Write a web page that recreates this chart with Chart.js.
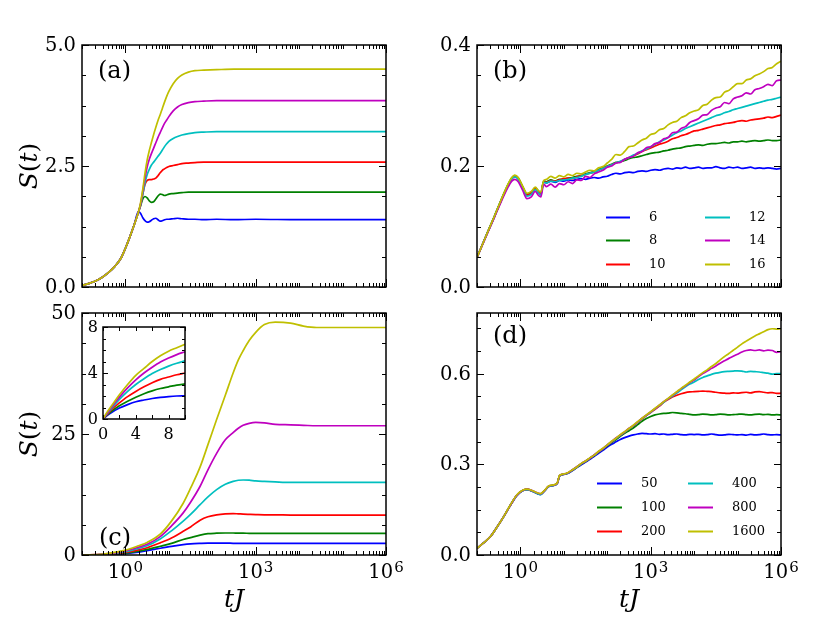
<!DOCTYPE html>
<html>
<head>
<meta charset="utf-8">
<title>S(t) vs tJ</title>
<script src="https://cdn.jsdelivr.net/npm/chart.js@4.4.1/dist/chart.umd.min.js"></script>
<style>
  html, body { margin:0; padding:0; background:#ffffff; }
  #fig { position:relative; width:822px; height:617px; overflow:hidden; background:#ffffff; }
  #fig canvas { position:absolute; left:0; top:0; }
</style>
</head>
<body>
<div id="fig">
  <canvas id="cA" width="822" height="617"></canvas>
  <canvas id="cB" width="822" height="617"></canvas>
  <canvas id="cC" width="822" height="617"></canvas>
  <canvas id="cD" width="822" height="617"></canvas>
  <canvas id="cI" width="822" height="617"></canvas>
</div>
<script>
// ---------------- DATA ----------------
const COLORS = ['#0000ff', '#008000', '#ff0000', '#00bfbf', '#bf00bf', '#bfbf00'];
const legendB = ['6', '8', '10', '12', '14', '16'];
const legendD = ['50', '100', '200', '400', '800', '1600'];

// panel (a): log10(tJ) and S(t)
const logT_A = [-1,-0.85,-0.7,-0.55,-0.4,-0.25,-0.1,0,0.1,0.2,0.3,0.35,0.4,0.45,0.5,0.55,0.6,0.65,0.7,0.75,0.8,0.85,0.9,0.95,1.0,1.1,1.2,1.3,1.45,1.6,1.8,2.1,2.5,3,4,5,6];
const aBlue  = [0.03,0.07,0.12,0.19,0.29,0.42,0.60,0.80,1.03,1.28,1.56,1.52,1.43,1.37,1.34,1.35,1.38,1.41,1.42,1.39,1.36,1.37,1.39,1.40,1.40,1.41,1.42,1.41,1.40,1.40,1.39,1.40,1.39,1.40,1.39,1.39,1.39];
const aGreen = [0.03,0.07,0.12,0.19,0.29,0.42,0.60,0.80,1.03,1.28,1.55,1.68,1.82,1.87,1.84,1.78,1.75,1.76,1.82,1.88,1.92,1.91,1.89,1.90,1.92,1.93,1.94,1.95,1.96,1.96,1.96,1.96,1.96,1.96,1.96,1.96,1.96];
const aRed   = [0.03,0.07,0.12,0.19,0.29,0.42,0.60,0.80,1.03,1.28,1.55,1.70,1.92,2.12,2.20,2.22,2.22,2.23,2.25,2.30,2.36,2.41,2.44,2.47,2.49,2.51,2.53,2.55,2.56,2.57,2.58,2.58,2.58,2.58,2.58,2.58,2.58];
const aCyan  = [0.03,0.07,0.12,0.19,0.29,0.42,0.60,0.80,1.03,1.28,1.55,1.70,1.92,2.15,2.32,2.43,2.52,2.58,2.64,2.70,2.76,2.83,2.90,2.96,3.01,3.07,3.11,3.14,3.17,3.19,3.20,3.21,3.21,3.21,3.21,3.21,3.21];
const aMag   = [0.03,0.07,0.12,0.19,0.29,0.42,0.60,0.80,1.03,1.28,1.55,1.72,1.98,2.25,2.48,2.64,2.76,2.87,2.98,3.09,3.19,3.29,3.38,3.45,3.52,3.64,3.72,3.77,3.81,3.83,3.84,3.85,3.85,3.85,3.85,3.85,3.85];
const aYel   = [0.03,0.07,0.12,0.19,0.29,0.42,0.60,0.80,1.03,1.28,1.55,1.75,2.02,2.35,2.62,2.82,2.99,3.15,3.30,3.44,3.56,3.69,3.82,3.94,4.04,4.20,4.31,4.38,4.44,4.47,4.48,4.49,4.50,4.50,4.50,4.50,4.50];

// panel (b)
const logT_B = [-1,-0.8,-0.6,-0.45,-0.3,-0.2,-0.13,-0.05,0.05,0.15,0.25,0.34,0.42,0.47,0.535,
  0.6,0.7,0.8,0.9,1.0,1.1,1.2,1.3,1.4,1.5,1.6,1.7,1.8,1.9,2.0,2.1,2.2,2.3,2.4,2.5,2.6,2.7,2.8,2.9,3.0,
  3.1,3.2,3.3,3.4,3.5,3.6,3.7,3.8,3.9,4.0,4.1,4.2,4.3,4.4,4.5,4.6,4.7,4.8,4.9,5.0,5.1,5.2,5.3,5.4,5.5,5.6,5.7,5.8,5.9,6.0];
const bBlue  = [0.049,0.083,0.116,0.142,0.166,0.179,0.183,0.179,0.165,0.152,0.155,0.163,0.157,0.154,0.174,
  0.172,0.175,0.173,0.176,0.175,0.177,0.176,0.178,0.179,0.178,0.180,0.181,0.180,0.182,0.183,
  0.186,0.188,0.187,0.189,0.190,0.189,0.191,0.192,0.191,0.193,0.194,0.193,0.195,0.196,0.195,0.197,0.196,0.198,0.196,0.197,
  0.198,0.196,0.197,0.197,0.199,0.197,0.196,0.198,0.197,0.198,0.196,0.197,0.198,0.196,0.197,0.196,0.197,0.196,0.195,0.196];
const bGreen = [0.049,0.083,0.117,0.143,0.167,0.180,0.184,0.180,0.166,0.153,0.156,0.164,0.158,0.155,0.175,
  0.174,0.177,0.175,0.178,0.178,0.180,0.181,0.183,0.184,0.187,0.189,0.191,0.194,0.197,0.200,
  0.203,0.206,0.207,0.209,0.212,0.214,0.215,0.217,0.219,0.221,0.222,0.223,0.225,0.226,0.228,0.229,0.230,0.232,0.233,0.234,
  0.235,0.234,0.236,0.237,0.237,0.238,0.239,0.238,0.240,0.240,0.241,0.240,0.241,0.242,0.241,0.242,0.243,0.242,0.242,0.243];
const bRed   = [0.049,0.083,0.116,0.142,0.166,0.179,0.183,0.179,0.165,0.152,0.155,0.163,0.157,0.154,0.174,
  0.173,0.176,0.175,0.177,0.179,0.180,0.179,0.182,0.184,0.186,0.188,0.190,0.193,0.196,0.199,
  0.202,0.205,0.207,0.211,0.214,0.217,0.220,0.224,0.227,0.230,0.233,0.236,0.238,0.241,0.245,0.247,0.250,0.252,0.255,0.258,
  0.259,0.261,0.263,0.265,0.267,0.268,0.270,0.271,0.272,0.274,0.275,0.274,0.276,0.277,0.278,0.279,0.281,0.280,0.282,0.284];
const bCyan  = [0.049,0.083,0.116,0.142,0.166,0.179,0.182,0.178,0.163,0.150,0.153,0.161,0.155,0.152,0.173,
  0.172,0.175,0.174,0.176,0.177,0.178,0.180,0.181,0.183,0.186,0.188,0.190,0.193,0.196,0.199,
  0.202,0.205,0.208,0.211,0.214,0.218,0.221,0.225,0.228,0.232,0.236,0.240,0.243,0.247,0.251,0.255,0.258,0.262,0.265,0.268,
  0.271,0.274,0.277,0.280,0.283,0.285,0.288,0.290,0.293,0.295,0.297,0.299,0.301,0.303,0.305,0.307,0.309,0.310,0.312,0.314];
const bMag   = [0.049,0.082,0.115,0.140,0.163,0.175,0.178,0.174,0.160,0.146,0.149,0.158,0.151,0.149,0.170,
  0.166,0.170,0.165,0.171,0.169,0.174,0.171,0.177,0.176,0.183,0.181,0.187,0.190,0.193,0.198,
  0.200,0.205,0.206,0.211,0.214,0.216,0.222,0.224,0.230,0.232,0.237,0.239,0.245,0.247,0.255,0.256,0.262,0.265,0.272,0.275,
  0.278,0.284,0.285,0.292,0.296,0.298,0.305,0.303,0.311,0.314,0.316,0.321,0.319,0.326,0.328,0.331,0.335,0.333,0.341,0.342];
const bYel   = [0.049,0.083,0.117,0.143,0.168,0.181,0.185,0.181,0.167,0.155,0.158,0.165,0.159,0.157,0.176,
  0.178,0.183,0.180,0.184,0.182,0.186,0.184,0.188,0.187,0.190,0.193,0.192,0.197,0.199,0.205,
  0.211,0.219,0.218,0.224,0.232,0.233,0.238,0.243,0.246,0.252,0.254,0.260,0.262,0.268,0.272,0.274,0.280,0.283,0.288,0.291,
  0.293,0.300,0.302,0.309,0.313,0.314,0.322,0.325,0.331,0.336,0.336,0.342,0.344,0.349,0.352,0.356,0.361,0.363,0.369,0.373];

// panel (c)
const logT_C = [-1,-0.5,0,0.3,0.5,0.8,1.06,1.33,1.5,1.72,1.9,2.1,2.3,2.48,2.6,2.71,2.85,3.0,3.2,3.45,3.8,4.1,4.4,5,6];
const cBlue  = [0,0.06,0.3,0.6,0.9,1.4,1.8,2.15,2.3,2.4,2.45,2.45,2.45,2.42,2.41,2.4,2.4,2.4,2.4,2.4,2.4,2.4,2.4,2.4,2.4];
const cGreen = [0,0.08,0.4,0.8,1.15,1.8,2.4,3.2,3.6,4.1,4.4,4.5,4.55,4.55,4.5,4.5,4.48,4.47,4.46,4.45,4.45,4.45,4.45,4.45,4.45];
const cRed   = [0,0.11,0.55,1.05,1.5,2.5,3.5,4.9,5.8,7.2,7.9,8.3,8.5,8.55,8.5,8.45,8.4,8.35,8.3,8.3,8.25,8.25,8.25,8.25,8.25];
const cCyan  = [0,0.14,0.7,1.35,1.9,3.3,5.0,7.0,8.4,10.4,12.0,13.5,14.6,15.2,15.45,15.5,15.45,15.3,15.2,15.1,15.0,15.0,15.0,15.0,15.0];
const cMag   = [0,0.17,0.85,1.6,2.2,3.8,6.0,8.7,10.9,14.2,17.6,21.0,23.8,25.3,26.2,26.8,27.2,27.4,27.3,27.0,26.9,26.8,26.7,26.7,26.7];
const cYel   = [0,0.2,1.0,1.9,2.6,4.3,7.0,10.7,13.8,18.2,22.8,28.0,33.0,37.6,40.3,42.2,44.3,46.0,47.6,48.1,47.9,47.3,47.0,47.0,47.0];

// inset of (c): linear tJ
const tInset = [0,0.5,1,2,3,4,5,6,7,8,9,10];
const iBlue  = [0,0.3,0.55,0.95,1.25,1.5,1.65,1.78,1.88,1.95,2.0,2.02];
const iGreen = [0,0.35,0.65,1.15,1.55,1.9,2.2,2.45,2.65,2.8,2.95,3.05];
const iRed   = [0,0.4,0.8,1.4,1.95,2.4,2.8,3.15,3.45,3.65,3.85,4.0];
const iCyan  = [0,0.45,0.9,1.7,2.4,3.0,3.5,3.95,4.3,4.6,4.85,5.05];
const iMag   = [0,0.5,1.0,1.9,2.7,3.4,4.0,4.5,4.95,5.3,5.6,5.85];
const iYel   = [0,0.6,1.1,2.1,3.0,3.8,4.4,5.0,5.5,5.9,6.2,6.5];

// panel (d)
const logT_D = [-1,-0.85,-0.69,-0.55,-0.385,-0.25,-0.08,0.05,0.15,0.3,0.46,0.55,0.65,0.766,0.85,0.9,1.0,
  1.1,1.2,1.3,1.4,1.5,1.6,1.7,1.8,1.9,2.0,2.1,2.2,2.3,2.4,2.5,2.6,2.7,2.8,2.9,3.0,
  3.1,3.2,3.3,3.4,3.5,3.6,3.7,3.8,3.9,4.0,4.1,4.2,4.3,4.4,4.5,4.6,4.7,4.8,4.9,5.0,5.1,5.2,5.3,5.4,5.5,5.6,5.7,5.8,5.9,6.0];
const dBlue  = [0.022,0.040,0.061,0.090,0.127,0.160,0.197,0.212,0.216,0.209,0.200,0.211,0.226,0.230,0.237,0.261,0.266,
  0.270,0.279,0.289,0.298,0.307,0.316,0.326,0.336,0.346,0.357,0.366,0.374,0.382,0.388,0.393,0.397,0.400,0.402,0.401,0.400,
  0.401,0.399,0.400,0.398,0.399,0.400,0.398,0.397,0.399,0.398,0.399,0.397,0.398,0.400,0.398,0.396,0.397,0.399,0.398,0.397,
  0.398,0.396,0.399,0.397,0.398,0.400,0.398,0.397,0.398,0.397];
const dGreen = [0.022,0.040,0.061,0.090,0.127,0.160,0.198,0.213,0.217,0.210,0.201,0.212,0.227,0.231,0.238,0.262,0.267,
  0.271,0.280,0.290,0.300,0.309,0.319,0.329,0.340,0.350,0.361,0.372,0.382,0.392,0.402,0.411,0.420,0.431,0.442,0.451,0.458,
  0.463,0.466,0.468,0.469,0.471,0.470,0.468,0.467,0.465,0.463,0.464,0.466,0.465,0.463,0.464,0.466,0.465,0.463,0.464,0.465,
  0.466,0.464,0.463,0.465,0.466,0.464,0.465,0.463,0.464,0.463];
const dRed   = [0.022,0.040,0.061,0.090,0.127,0.160,0.198,0.213,0.217,0.210,0.201,0.212,0.227,0.231,0.238,0.262,0.267,
  0.272,0.281,0.291,0.301,0.310,0.320,0.330,0.341,0.351,0.363,0.374,0.385,0.396,0.406,0.417,0.427,0.439,0.450,0.461,0.471,
  0.482,0.492,0.505,0.514,0.522,0.528,0.533,0.537,0.539,0.540,0.541,0.542,0.541,0.540,0.538,0.536,0.535,0.534,0.536,0.535,
  0.537,0.538,0.536,0.539,0.540,0.538,0.536,0.537,0.534,0.535];
const dCyan  = [0.022,0.040,0.061,0.090,0.127,0.160,0.197,0.212,0.216,0.209,0.199,0.211,0.226,0.230,0.237,0.261,0.267,
  0.271,0.281,0.291,0.301,0.310,0.320,0.330,0.341,0.351,0.363,0.374,0.385,0.396,0.406,0.417,0.427,0.439,0.451,0.461,0.472,
  0.483,0.494,0.505,0.516,0.525,0.535,0.546,0.556,0.565,0.572,0.580,0.587,0.592,0.597,0.601,0.604,0.606,0.607,0.608,0.609,
  0.608,0.605,0.607,0.606,0.605,0.603,0.601,0.598,0.600,0.600];
const dMag   = [0.022,0.040,0.061,0.090,0.127,0.160,0.198,0.213,0.218,0.211,0.202,0.212,0.227,0.231,0.238,0.262,0.268,
  0.272,0.282,0.292,0.302,0.311,0.320,0.331,0.342,0.352,0.364,0.375,0.387,0.397,0.407,0.419,0.428,0.440,0.452,0.462,0.473,
  0.484,0.495,0.507,0.517,0.528,0.539,0.550,0.559,0.570,0.578,0.590,0.600,0.608,0.617,0.625,0.634,0.642,0.650,0.657,0.664,
  0.671,0.676,0.678,0.676,0.678,0.675,0.677,0.676,0.670,0.672];
const dYel   = [0.022,0.040,0.061,0.090,0.127,0.161,0.199,0.214,0.218,0.211,0.203,0.213,0.228,0.232,0.239,0.263,0.268,
  0.273,0.282,0.291,0.303,0.311,0.321,0.330,0.343,0.353,0.364,0.376,0.386,0.398,0.408,0.418,0.429,0.441,0.452,0.463,0.474,
  0.485,0.496,0.507,0.518,0.529,0.540,0.551,0.561,0.572,0.582,0.592,0.603,0.612,0.623,0.633,0.645,0.656,0.666,0.677,0.687,
  0.698,0.707,0.716,0.724,0.731,0.738,0.745,0.748,0.747,0.748];

// axis tick labels
const yLabA = [{v:0, t:'0.0'}, {v:2.5, t:'2.5'}, {v:5, t:'5.0'}];
const yLabB = [{v:0, t:'0.0'}, {v:0.2, t:'0.2'}, {v:0.4, t:'0.4'}];
const yLabC = [{v:0, t:'0'}, {v:25, t:'25'}, {v:50, t:'50'}];
const yLabD = [{v:0, t:'0.0'}, {v:0.3, t:'0.3'}, {v:0.6, t:'0.6'}];
const xLogLabels = [{v:1, base:'10', exp:'0'}, {v:1e3, base:'10', exp:'3'}, {v:1e6, base:'10', exp:'6'}];
const xLabInset = [{v:0, t:'0'}, {v:4, t:'4'}, {v:8, t:'8'}];
const yLabInset = [{v:0, t:'0'}, {v:4, t:'4'}, {v:8, t:'8'}];

// ---------------- RENDERING ----------------
const W = 822, H = 617;
const SERIF = '"DejaVu Serif", "Liberation Serif", serif';

function stepTicks(min, max, step) {
  const out = [];
  for (let k = 0; min + k * step <= max + 1e-9; k++) out.push(+(min + k * step).toFixed(6));
  return out;
}
function logTicks(lo, hi) {
  const out = [];
  for (let e = lo; e < hi; e++) for (let j = 1; j <= 9; j++) out.push(j * Math.pow(10, e));
  out.push(Math.pow(10, hi));
  return out;
}
const near = (a, b) => Math.abs(a - b) < 1e-9 * Math.max(1, Math.abs(a));

function drawAxes(chart, cfg) {
  const c = chart.ctx, a = chart.chartArea, xs = chart.scales.x, ys = chart.scales.y;
  c.save();
  c.strokeStyle = '#000'; c.lineWidth = 1;
  const seg = (x1, y1, x2, y2) => { c.beginPath(); c.moveTo(x1, y1); c.lineTo(x2, y2); c.stroke(); };
  cfg.yTicks.forEach(v => {
    const major = cfg.yMajor.some(m => near(m, v));
    const len = major ? cfg.yMajorLen : cfg.yMinorLen;
    const py = Math.round(ys.getPixelForValue(v)) + 0.5;
    seg(a.left, py, a.left + len, py); seg(a.right, py, a.right - len, py);
  });
  cfg.xTicks.forEach(v => {
    const major = cfg.xMajor.some(m => near(m, v));
    const len = major ? cfg.xMajorLen : cfg.xMinorLen;
    const px = Math.round(xs.getPixelForValue(v)) + 0.5;
    seg(px, a.bottom, px, a.bottom - len); seg(px, a.top, px, a.top + len);
  });
  c.lineWidth = cfg.frameWidth;
  c.strokeRect(a.left, a.top, a.right - a.left, a.bottom - a.top);
  c.fillStyle = '#000';
  c.font = cfg.tickFont; c.textAlign = 'right'; c.textBaseline = 'middle';
  cfg.yLabels.forEach(l => c.fillText(l.t, a.left - cfg.yLabelGap, ys.getPixelForValue(l.v) + 1));
  if (cfg.xLogLabels) {
    cfg.xLogLabels.forEach(l => {
      c.font = cfg.tickFont; const wb = c.measureText(l.base).width;
      c.font = cfg.supFont; const we = c.measureText(l.exp).width;
      const x0 = xs.getPixelForValue(l.v) - (wb + we + 1) / 2;
      c.textAlign = 'left'; c.textBaseline = 'alphabetic';
      c.font = cfg.tickFont; c.fillText(l.base, x0, cfg.xLabelBaseline);
      c.font = cfg.supFont; c.fillText(l.exp, x0 + wb + 1, cfg.xLabelBaseline - 6);
    });
  }
  if (cfg.xLinLabels) {
    c.font = cfg.tickFont; c.textAlign = 'center'; c.textBaseline = 'middle';
    cfg.xLinLabels.forEach(l => c.fillText(l.t, xs.getPixelForValue(l.v), cfg.xLabelMid));
  }
  if (cfg.extra) cfg.extra(chart, c);
  c.restore();
}

function drawSt(c, cx, cy) {
  const parts = [['S', 'italic 25px ' + SERIF], ['(', '25px ' + SERIF], ['t', 'italic 25px ' + SERIF], [')', '25px ' + SERIF]];
  c.save(); c.translate(cx, cy); c.rotate(-Math.PI / 2);
  let total = 0;
  parts.forEach(p => { c.font = p[1]; p.w = c.measureText(p[0]).width; total += p.w; });
  let x = -total / 2; c.textAlign = 'left'; c.textBaseline = 'alphabetic'; c.fillStyle = '#000';
  parts.forEach(p => { c.font = p[1]; c.fillText(p[0], x, 0); x += p.w; });
  c.restore();
}
function drawTJ(c, cx, baseY) {
  c.save(); c.font = 'italic 25px ' + SERIF; c.textAlign = 'center'; c.textBaseline = 'alphabetic'; c.fillStyle = '#000';
  c.fillText('tJ', cx, baseY); c.restore();
}
function drawTag(c, txt, x, baseY) {
  c.save(); c.font = '24px ' + SERIF; c.textAlign = 'left'; c.textBaseline = 'alphabetic'; c.fillStyle = '#000';
  c.fillText(txt, x, baseY); c.restore();
}
function drawLegend(chart, c, lg) {
  const ds = chart.data.datasets.slice().sort((p, q) => p.idx - q.idx);
  c.save(); c.font = '13px ' + SERIF; c.textAlign = 'left'; c.textBaseline = 'middle';
  ds.forEach((d, i) => {
    const col = lg.cols[Math.floor(i / 3)], y = lg.rows[i % 3];
    c.strokeStyle = d.borderColor; c.lineWidth = 2;
    c.beginPath(); c.moveTo(col[0], y + 0.5); c.lineTo(col[1], y + 0.5); c.stroke();
    c.fillStyle = '#000'; c.fillText(d.label, col[2], y + 1);
  });
  c.restore();
}

function makeChart(id, rect, xType, xMin, xMax, yMin, yMax, xVals, series, labels, cfg) {
  const datasets = series.map((vals, i) => ({
    label: labels ? labels[i] : String(i),
    idx: i,
    data: xVals.map((xv, j) => ({ x: xv, y: vals[j] })),
    borderColor: COLORS[i],
    borderWidth: 1.7,
    pointRadius: 0,
    fill: false,
    cubicInterpolationMode: 'monotone',
    order: 6 - i
  }));
  const plugin = {
    id: 'frame_' + id,
    beforeDatasetsDraw(chart) {
      if (!cfg.whiteBg) return;
      const a = chart.chartArea, c = chart.ctx;
      c.save(); c.fillStyle = '#fff'; c.fillRect(a.left, a.top, a.right - a.left, a.bottom - a.top); c.restore();
    },
    afterDraw(chart) { drawAxes(chart, cfg); }
  };
  return new Chart(document.getElementById(id).getContext('2d'), {
    type: 'line',
    data: { datasets },
    options: {
      responsive: false, animation: false, devicePixelRatio: 1,
      layout: { padding: { left: rect.left, top: rect.top, right: W - rect.right, bottom: H - rect.bottom } },
      plugins: { legend: { display: false }, tooltip: { enabled: false } },
      events: [],
      scales: {
        x: { type: xType, min: xMin, max: xMax, display: false },
        y: { type: 'linear', min: yMin, max: yMax, display: false }
      }
    },
    plugins: [plugin]
  });
}

const toT = arr => arr.map(e => Math.pow(10, e));
const xLogTicks = logTicks(-1, 6);
const xLogMajor = [1, 1e3, 1e6];
const base = {
  frameWidth: 1.5, tickFont: '19.5px ' + SERIF, supFont: '15px ' + SERIF,
  yMajorLen: 7, yMinorLen: 4, xMajorLen: 8, xMinorLen: 4, yLabelGap: 6,
  xTicks: xLogTicks, xMajor: xLogMajor
};

makeChart('cA', {left:82, top:45, right:386, bottom:287}, 'logarithmic', 0.1, 1e6, 0, 5,
  toT(logT_A), [aBlue, aGreen, aRed, aCyan, aMag, aYel], null,
  Object.assign({}, base, {
    yTicks: stepTicks(0, 5, 0.625), yMajor: yLabA.map(l => l.v), yLabels: yLabA,
    extra: (ch, c) => { drawSt(c, 37, 166); drawTag(c, '(a)', 98, 78); }
  }));

makeChart('cB', {left:477, top:45, right:781, bottom:287}, 'logarithmic', 0.1, 1e6, 0, 0.4,
  toT(logT_B), [bBlue, bGreen, bRed, bCyan, bMag, bYel], legendB,
  Object.assign({}, base, {
    yTicks: stepTicks(0, 0.4, 0.05), yMajor: yLabB.map(l => l.v), yLabels: yLabB,
    extra: (ch, c) => {
      drawTag(c, '(b)', 493, 78);
      drawLegend(ch, c, { cols: [[606, 630, 649], [705, 730, 749]], rows: [217, 240, 264] });
    }
  }));

makeChart('cC', {left:82, top:313, right:386, bottom:555}, 'logarithmic', 0.1, 1e6, 0, 50,
  toT(logT_C), [cBlue, cGreen, cRed, cCyan, cMag, cYel], null,
  Object.assign({}, base, {
    yTicks: stepTicks(0, 50, 6.25), yMajor: yLabC.map(l => l.v), yLabels: yLabC,
    xLogLabels: xLogLabels, xLabelBaseline: 578,
    extra: (ch, c) => { drawSt(c, 37, 434); drawTJ(c, 234, 607); drawTag(c, '(c)', 99, 545); }
  }));

makeChart('cD', {left:477, top:313, right:781, bottom:555}, 'logarithmic', 0.1, 1e6, 0, 0.8,
  toT(logT_D), [dBlue, dGreen, dRed, dCyan, dMag, dYel], legendD,
  Object.assign({}, base, {
    yTicks: stepTicks(0, 0.75, 0.075), yMajor: yLabD.map(l => l.v), yLabels: yLabD,
    xLogLabels: xLogLabels, xLabelBaseline: 578,
    extra: (ch, c) => {
      drawTJ(c, 629, 607); drawTag(c, '(d)', 493, 343);
      drawLegend(ch, c, { cols: [[597, 622, 641], [688, 713, 732]], rows: [483, 507, 531] });
    }
  }));

makeChart('cI', {left:103, top:327, right:185, bottom:419}, 'linear', 0, 10, 0, 8,
  tInset, [iBlue, iGreen, iRed, iCyan, iMag, iYel], null,
  {
    whiteBg: true, frameWidth: 1.5, tickFont: '16px ' + SERIF,
    yMajorLen: 5, yMinorLen: 3, xMajorLen: 4, xMinorLen: 4, yLabelGap: 5,
    yTicks: stepTicks(0, 8, 1), yMajor: yLabInset.map(l => l.v), yLabels: yLabInset,
    xTicks: stepTicks(0, 10, 2), xMajor: [0, 4, 8],
    xLinLabels: xLabInset, xLabelMid: 435
  });
</script>
</body>
</html>
